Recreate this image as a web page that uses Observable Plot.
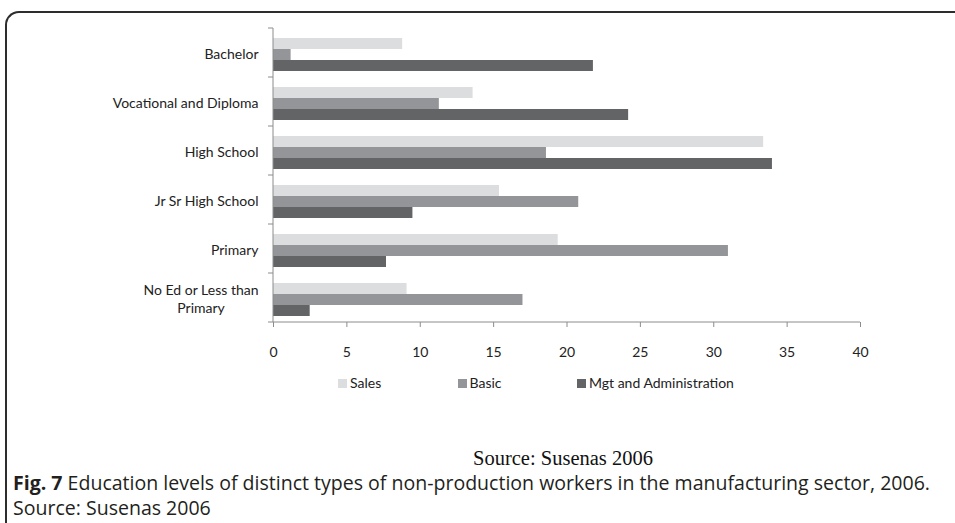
<!DOCTYPE html>
<html>
<head>
<meta charset="utf-8">
<script src="https://cdn.jsdelivr.net/npm/d3@7"></script>
<script src="https://cdn.jsdelivr.net/npm/@observablehq/plot@0.6"></script>
<style>
  html, body { margin: 0; padding: 0; background: #fff; }
  body { width: 955px; height: 523px; overflow: hidden; position: relative; font-family: Lato, "Open Sans", sans-serif; color: #222; }
  #frame { position: absolute; left: 5px; top: 11px; width: 1000px; height: 600px; border-top: 2px solid #2d2d2d; border-left: 2px solid #2d2d2d; border-top-left-radius: 14px; box-sizing: border-box; }
  #chart { position: absolute; left: 0; top: 0; }
  #legend { position: absolute; left: 338px; top: 375px; display: flex; font: 14px Lato, sans-serif; line-height: 16px; color: #222; white-space: nowrap; }
  #legend .item { width: 119.5px; display: flex; align-items: center; }
  #legend .item:last-child { width: auto; }
  #legend .sw { width: 9px; height: 9px; margin-right: 3px; flex: none; }
  #src { position: absolute; left: 0; width: 1126px; top: 448px; line-height: 20px; text-align: center; font-family: "Liberation Serif", serif; font-size: 20.5px; color: #111; white-space: nowrap; }
  .cap { position: absolute; left: 13px; font-family: "Open Sans", sans-serif; font-size: 19.55px; line-height: 22px; color: #231f20; white-space: nowrap; }
</style>
</head>
<body>
<div id="frame"></div>
<div id="chart"></div>
<div id="legend"></div>
<div id="src">Source: Susenas 2006</div>
<div class="cap" style="top:472px"><b>Fig. 7</b> Education levels of distinct types of non-production workers in the manufacturing sector, 2006.</div>
<div class="cap" style="top:497px">Source: Susenas 2006</div>
<script>
const categories = ["Bachelor", "Vocational and Diploma", "High School", "Jr Sr High School", "Primary", "No Ed or Less than Primary"];
const categoryLabels = ["Bachelor", "Vocational and Diploma", "High School", "Jr Sr High School", "Primary", "No Ed or Less than\nPrimary"];
const series = ["Sales", "Basic", "Mgt and Administration"];
const sales = [8.8, 13.6, 33.4, 15.4, 19.4, 9.1];
const basic = [1.2, 11.3, 18.6, 20.8, 31.0, 17.0];
const mgt = [21.8, 24.2, 34.0, 9.5, 7.7, 2.5];
const xTicks = [0, 5, 10, 15, 20, 25, 30, 35, 40];
const colors = ["#dcdddf", "#939598", "#636466"];
const axisColor = "#8c8c8c";

const values = [sales, basic, mgt];
const data = [];
categories.forEach((c, i) => series.forEach((s, j) => data.push({category: c, series: s, value: values[j][i]})));
const labelOf = new Map(categories.map((c, i) => [c, categoryLabels[i]]));

const chart = Plot.plot({
  width: 955, height: 365,
  marginLeft: 273, marginRight: 95, marginTop: 28, marginBottom: 43,
  style: {fontFamily: "Lato, sans-serif", fontSize: "14px", color: "#222", background: "transparent"},
  x: {domain: [0, 40]},
  y: {domain: series, paddingInner: 0, paddingOuter: 0.7, align: 0.6, axis: null},
  fy: {domain: categories, padding: 0, axis: null},
  color: {domain: series, range: colors},
  marks: [
    Plot.barX(data, {x: "value", y: "series", fy: "category", fill: "series"}),
    Plot.axisX({ticks: xTicks, tickSize: 5, tickPadding: 20, stroke: axisColor, fill: "#222", label: null}),
    Plot.axisFy({anchor: "left", tickSize: 0, tickPadding: 15, lineHeight: 1.35, tickFormat: d => labelOf.get(d), label: null, fill: "#222"})
  ]
});
document.getElementById("chart").appendChild(chart);

// axis line and category boundary ticks, positioned from the plot's own scales
const xs = chart.scale("x"), fys = chart.scale("fy");
const x0 = xs.apply(0), x1 = xs.apply(40);
const yTop = fys.apply(categories[0]);
const yBottom = fys.apply(categories[categories.length - 1]) + fys.bandwidth;
const svg = d3.select(chart);
const g = svg.append("g").attr("stroke", axisColor).attr("stroke-width", 1);
g.append("line").attr("x1", x0).attr("x2", x0).attr("y1", yTop).attr("y2", yBottom);
g.append("line").attr("x1", x0).attr("x2", x1).attr("y1", yBottom).attr("y2", yBottom);
const bounds = categories.map(c => fys.apply(c)).concat([yBottom]);
bounds.forEach(b => g.append("line").attr("x1", x0 - 5).attr("x2", x0).attr("y1", b).attr("y2", b));

// center the lines of multi-line category labels on each other
svg.selectAll("text").each(function() {
  const tspans = Array.from(this.querySelectorAll("tspan"));
  if (tspans.length > 1) {
    const widths = tspans.map(t => t.getComputedTextLength());
    const maxW = Math.max(...widths);
    tspans.forEach((t, i) => t.setAttribute("dx", -(maxW - widths[i]) / 2));
  }
});

// legend
const legend = document.getElementById("legend");
series.forEach((s, i) => {
  const item = document.createElement("div");
  item.className = "item";
  const sw = document.createElement("span");
  sw.className = "sw";
  sw.style.background = colors[i];
  item.appendChild(sw);
  item.appendChild(document.createTextNode(s));
  legend.appendChild(item);
});
</script>
</body>
</html>
